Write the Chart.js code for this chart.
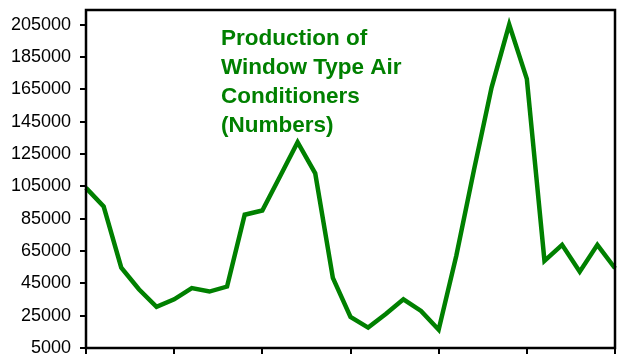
<!DOCTYPE html>
<html>
<head>
<meta charset="utf-8">
<script src="https://cdn.jsdelivr.net/npm/chart.js@4/dist/chart.umd.min.js"></script>
<style>
  html, body { margin: 0; padding: 0; background: #fff; }
  #wrap { width: 633px; height: 362px; }
</style>
</head>
<body>
<div id="wrap"><canvas id="chart" width="633" height="362"></canvas></div>
<script>
const categories = ["1", "2", "3", "4", "5", "6", "7", "8", "9", "10", "11", "12", "13", "14", "15", "16",
    "17", "18", "19", "20", "21", "22", "23", "24", "25", "26", "27", "28", "29", "30", "31"];
const production = [104000, 92500, 54700, 41300, 30400, 35100, 42000, 39900, 43000, 87400, 90000,
    111000, 132300, 113000, 48400, 24200, 17600, 26000, 35100, 27900, 16300, 62000, 115000,
    166000, 205000, 171400, 58900, 68800, 52200, 68800, 54300];
const yTicks = [5000, 25000, 45000, 65000, 85000, 105000, 125000, 145000, 165000, 185000, 205000];
const titleLines = ["Production of", "Window Type Air", "Conditioners", "(Numbers)"];

const green = "#008000";

// frame round the plot area + the title written inside it
const framePlugin = {
    id: "frame",
    afterDraw(chart) {
        const { ctx, chartArea } = chart;
        ctx.save();
        ctx.strokeStyle = "#000";
        ctx.lineWidth = 2.5;
        ctx.strokeRect(chartArea.left, chartArea.top, chartArea.right - chartArea.left, chartArea.bottom - chartArea.top);

        ctx.fillStyle = green;
        ctx.font = "bold 22.5px 'Liberation Sans', Arial, sans-serif";
        ctx.textBaseline = "alphabetic";
        titleLines.forEach((line, i) => {
            ctx.fillText(line, 221, 45 + i * 29);
        });
        ctx.restore();
    }
};

const ctx = document.getElementById("chart").getContext("2d");
new Chart(ctx, {
    type: "line",
    data: {
        labels: categories,
        datasets: [{
            label: "Production",
            data: production,
            borderColor: green,
            borderWidth: 4.5,
            pointRadius: 0,
            tension: 0,
            fill: false
        }]
    },
    options: {
        responsive: false,
        animation: false,
        layout: { padding: { top: 10, right: 18, bottom: 8, left: 0 } },
        plugins: {
            legend: { display: false },
            tooltip: { enabled: false }
        },
        scales: {
            x: {
                offset: false,
                afterFit: (scale) => {
                    scale.height = 6;
                    scale.paddingLeft = 0;
                    scale.paddingRight = 0;
                },
                grid: {
                    drawOnChartArea: false,
                    tickLength: 6,
                    lineWidth: 2,
                    color: (c) => (c.index % 5 === 0 ? "#000" : "rgba(0,0,0,0)")
                },
                border: { color: "#000", width: 2 },
                ticks: { display: false, autoSkip: false }
            },
            y: {
                min: 5000,
                max: 214000,
                afterBuildTicks: (scale) => {
                    scale.ticks = yTicks.map(v => ({ value: v }));
                },
                afterFit: (scale) => {
                    scale.width = 86;
                    scale.paddingTop = 0;
                    scale.paddingBottom = 0;
                },
                grid: {
                    drawOnChartArea: false,
                    tickLength: 6,
                    lineWidth: 2,
                    color: "#000"
                },
                border: { color: "#000", width: 2 },
                ticks: {
                    color: "#000",
                    padding: 9,
                    callback: (v) => String(v),
                    font: { family: "'Liberation Sans', Arial, sans-serif", size: 18 }
                }
            }
        }
    },
    plugins: [framePlugin]
});
</script>
</body>
</html>
